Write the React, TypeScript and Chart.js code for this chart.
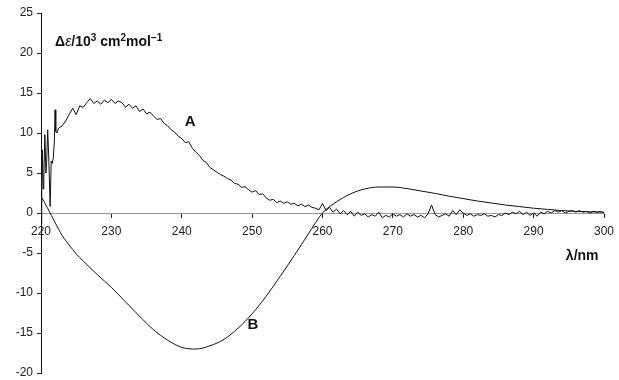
import React, { useEffect, useRef } from "react";
import { Chart, registerables } from "chart.js";

Chart.register(...registerables);

// Curve A: initial noisy spike region (wavelength, value)
const aStartX = [220.0, 220.1, 220.2, 220.3, 220.4, 220.55, 220.7, 220.8, 220.95, 221.1, 221.3, 221.45, 221.6, 221.75, 221.9, 222.0, 222.1, 222.25];
const aStartY = [-1.5, 2.0, 7.9, 3.0, 4.5, 9.8, 5.0, 6.3, 10.4, 7.0, 0.8, 6.5, 6.2, 6.9, 9.0, 12.9, 10.2, 10.0];

// Curve A: from 222.5 nm onward, every 0.5 nm
const aMainStart = 222.5;
const aMainStep = 0.5;
const aMainY = [
  10.6, 10.9, 11.5, 12.3, 13.1, 12.3, 13.4, 13.2, 13.8, 14.3,
  13.7, 14.0, 13.6, 14.1, 13.8, 14.2, 13.7, 14.0, 13.8, 13.2,
  13.6, 13.1, 13.4, 12.7, 13.0, 12.4, 12.6, 12.1, 11.7, 11.8,
  11.2, 10.9, 10.4, 10.1, 9.6, 9.3, 8.8, 8.9, 8.1, 7.6,
  7.2, 6.6, 6.3, 5.7, 5.4, 5.1, 4.8, 4.6, 4.3, 4.1,
  3.7, 3.6, 3.2, 3.3, 2.9, 2.6, 2.8, 2.3, 2.4, 1.9,
  1.6, 1.7, 1.3, 1.5, 1.2, 1.4, 1.1, 1.2, 0.9, 1.1,
  0.8, 1.0, 0.7, 0.6, 0.4, 1.2, 0.3, 0.7, 0.1, 0.5,
  -0.1, 0.3, -0.2, 0.2, -0.4, 0.1, -0.3, -0.1, -0.5, -0.2,
  -0.4, 0.1, -0.6, -0.3, -0.5, -0.1, -0.4, -0.2, -0.5, -0.1,
  -0.4, -0.2, -0.5, -0.3, -0.6, -0.1, 1.0, -0.2, -0.5, -0.3,
  -0.1, -0.4, 0.3, -0.2, 0.4, 0.0, -0.3, -0.1, -0.4, -0.2,
  -0.3, -0.1, -0.4, -0.3, -0.5, -0.2, -0.3, 0.0, -0.2, 0.1,
  -0.1, 0.2, -0.2, 0.1, -0.3, 0.0, -0.4, 0.1, -0.1, 0.2,
  0.0, 0.3, 0.1, 0.3, 0.0, 0.2, 0.3, 0.1, 0.3, 0.1,
  0.2, 0.0, 0.2, 0.1, 0.2, 0.0,
];

// Curve B: smooth
const bX = [220, 221, 222, 223, 224, 225, 226, 228, 230, 232, 234, 236, 238, 240, 242, 244, 246, 248, 250, 252, 254, 256, 258, 260, 262, 264, 266, 268, 270, 272, 274, 276, 278, 280, 282, 284, 286, 288, 290, 292, 294, 296, 298, 300];
const bY = [2.1, 0.5, -1.2, -2.8, -4.0, -5.1, -6.0, -7.7, -9.3, -11.1, -12.9, -14.6, -15.9, -16.8, -17.0, -16.6, -15.8, -14.4, -12.6, -10.4, -7.9, -5.3, -2.6, 0.0, 1.4, 2.4, 3.0, 3.25, 3.25, 3.05, 2.75, 2.45, 2.1, 1.8, 1.5, 1.25, 1.0, 0.8, 0.6, 0.45, 0.3, 0.2, 0.15, 0.1];

const xTicks = [220, 230, 240, 250, 260, 270, 280, 290, 300];
const yTicks = [-20, -15, -10, -5, 0, 5, 10, 15, 20, 25];

const seriesA = [
  ...aStartX.map((x, i) => ({ x, y: aStartY[i] })),
  ...aMainY.map((y, i) => ({ x: aMainStart + i * aMainStep, y })),
];
const seriesB = bX.map((x, i) => ({ x, y: bY[i] }));

const labelsPlugin = {
  id: "labels",
  afterDraw(chart: any) {
    const { ctx, scales } = chart;
    const xs = scales.x;
    const ys = scales.y;
    ctx.save();
    ctx.fillStyle = "#111";
    ctx.textBaseline = "middle";
    ctx.textAlign = "center";
    ctx.font = "bold 15px 'Liberation Sans', Arial, sans-serif";
    ctx.fillText("A", xs.getPixelForValue(241.2), ys.getPixelForValue(11.4));
    ctx.fillText("B", xs.getPixelForValue(250.1), ys.getPixelForValue(-14.0));
    ctx.font = "bold 14px 'Liberation Sans', Arial, sans-serif";
    ctx.fillText("λ/nm", xs.getPixelForValue(296.9), ys.getPixelForValue(-5.4));

    // y-axis unit title
    ctx.textAlign = "left";
    ctx.textBaseline = "alphabetic";
    let px = xs.getPixelForValue(222.0);
    const py = ys.getPixelForValue(21.5) + 5;
    const big = "bold 14px 'Liberation Sans', Arial, sans-serif";
    const ital = "italic 14px 'Liberation Sans', Arial, sans-serif";
    const small = "bold 10px 'Liberation Sans', Arial, sans-serif";
    const parts: [string, string, number][] = [
      ["Δ", big, 0],
      ["ε", ital, 0],
      ["/10", big, 0],
      ["3", small, -5],
      [" cm", big, 0],
      ["2", small, -5],
      ["mol", big, 0],
      ["−1", small, -5],
    ];
    for (const [t, f, dy] of parts) {
      ctx.font = f;
      ctx.fillText(t, px, py + dy);
      px += ctx.measureText(t).width;
    }
    ctx.restore();
  },
};

export default function App() {
  const ref = useRef<HTMLCanvasElement>(null);
  useEffect(() => {
    document.body.style.margin = "0";
    const tickFont = { family: "'Liberation Sans', Arial, sans-serif", size: 12 };
    const chart = new Chart(ref.current!, {
      type: "line",
      data: {
        datasets: [
          {
            data: seriesA,
            borderColor: "#111",
            borderWidth: 1,
            pointRadius: 0,
            tension: 0,
          },
          {
            data: seriesB,
            borderColor: "#111",
            borderWidth: 1,
            pointRadius: 0,
            cubicInterpolationMode: "monotone",
          },
        ],
      },
      options: {
        animation: false,
        responsive: false,
        layout: { padding: { left: 0, right: 15, top: 13, bottom: 7 } },
        plugins: { legend: { display: false }, tooltip: { enabled: false } },
        scales: {
          x: {
            type: "linear",
            position: { y: 0 },
            min: 220,
            max: 300,
            afterBuildTicks: (s: any) => {
              s.ticks = xTicks.map((v) => ({ value: v }));
            },
            afterFit: (s: any) => {
              s.height = 0;
              s.paddingLeft = 0;
              s.paddingRight = 0;
              s.paddingTop = 0;
              s.paddingBottom = 0;
            },
            grid: { drawOnChartArea: false, drawTicks: true, tickLength: 4, color: "#222" },
            border: { display: true, color: "#999", width: 1 },
            ticks: { color: "#222", font: tickFont, padding: 7, maxRotation: 0 },
          },
          y: {
            type: "linear",
            min: -20,
            max: 25,
            afterBuildTicks: (s: any) => {
              s.ticks = yTicks.map((v) => ({ value: v }));
            },
            afterFit: (s: any) => {
              s.width = 41;
              s.paddingTop = 0;
              s.paddingBottom = 0;
            },
            grid: { drawOnChartArea: false, drawTicks: true, tickLength: 4, color: "#222" },
            border: { display: true, color: "#111", width: 1 },
            ticks: { color: "#222", font: tickFont, padding: 4 },
          },
        },
      },
      plugins: [labelsPlugin],
    } as any);
    return () => chart.destroy();
  }, []);
  return <canvas ref={ref} width={619} height={380} style={{ display: "block" }} />;
}
